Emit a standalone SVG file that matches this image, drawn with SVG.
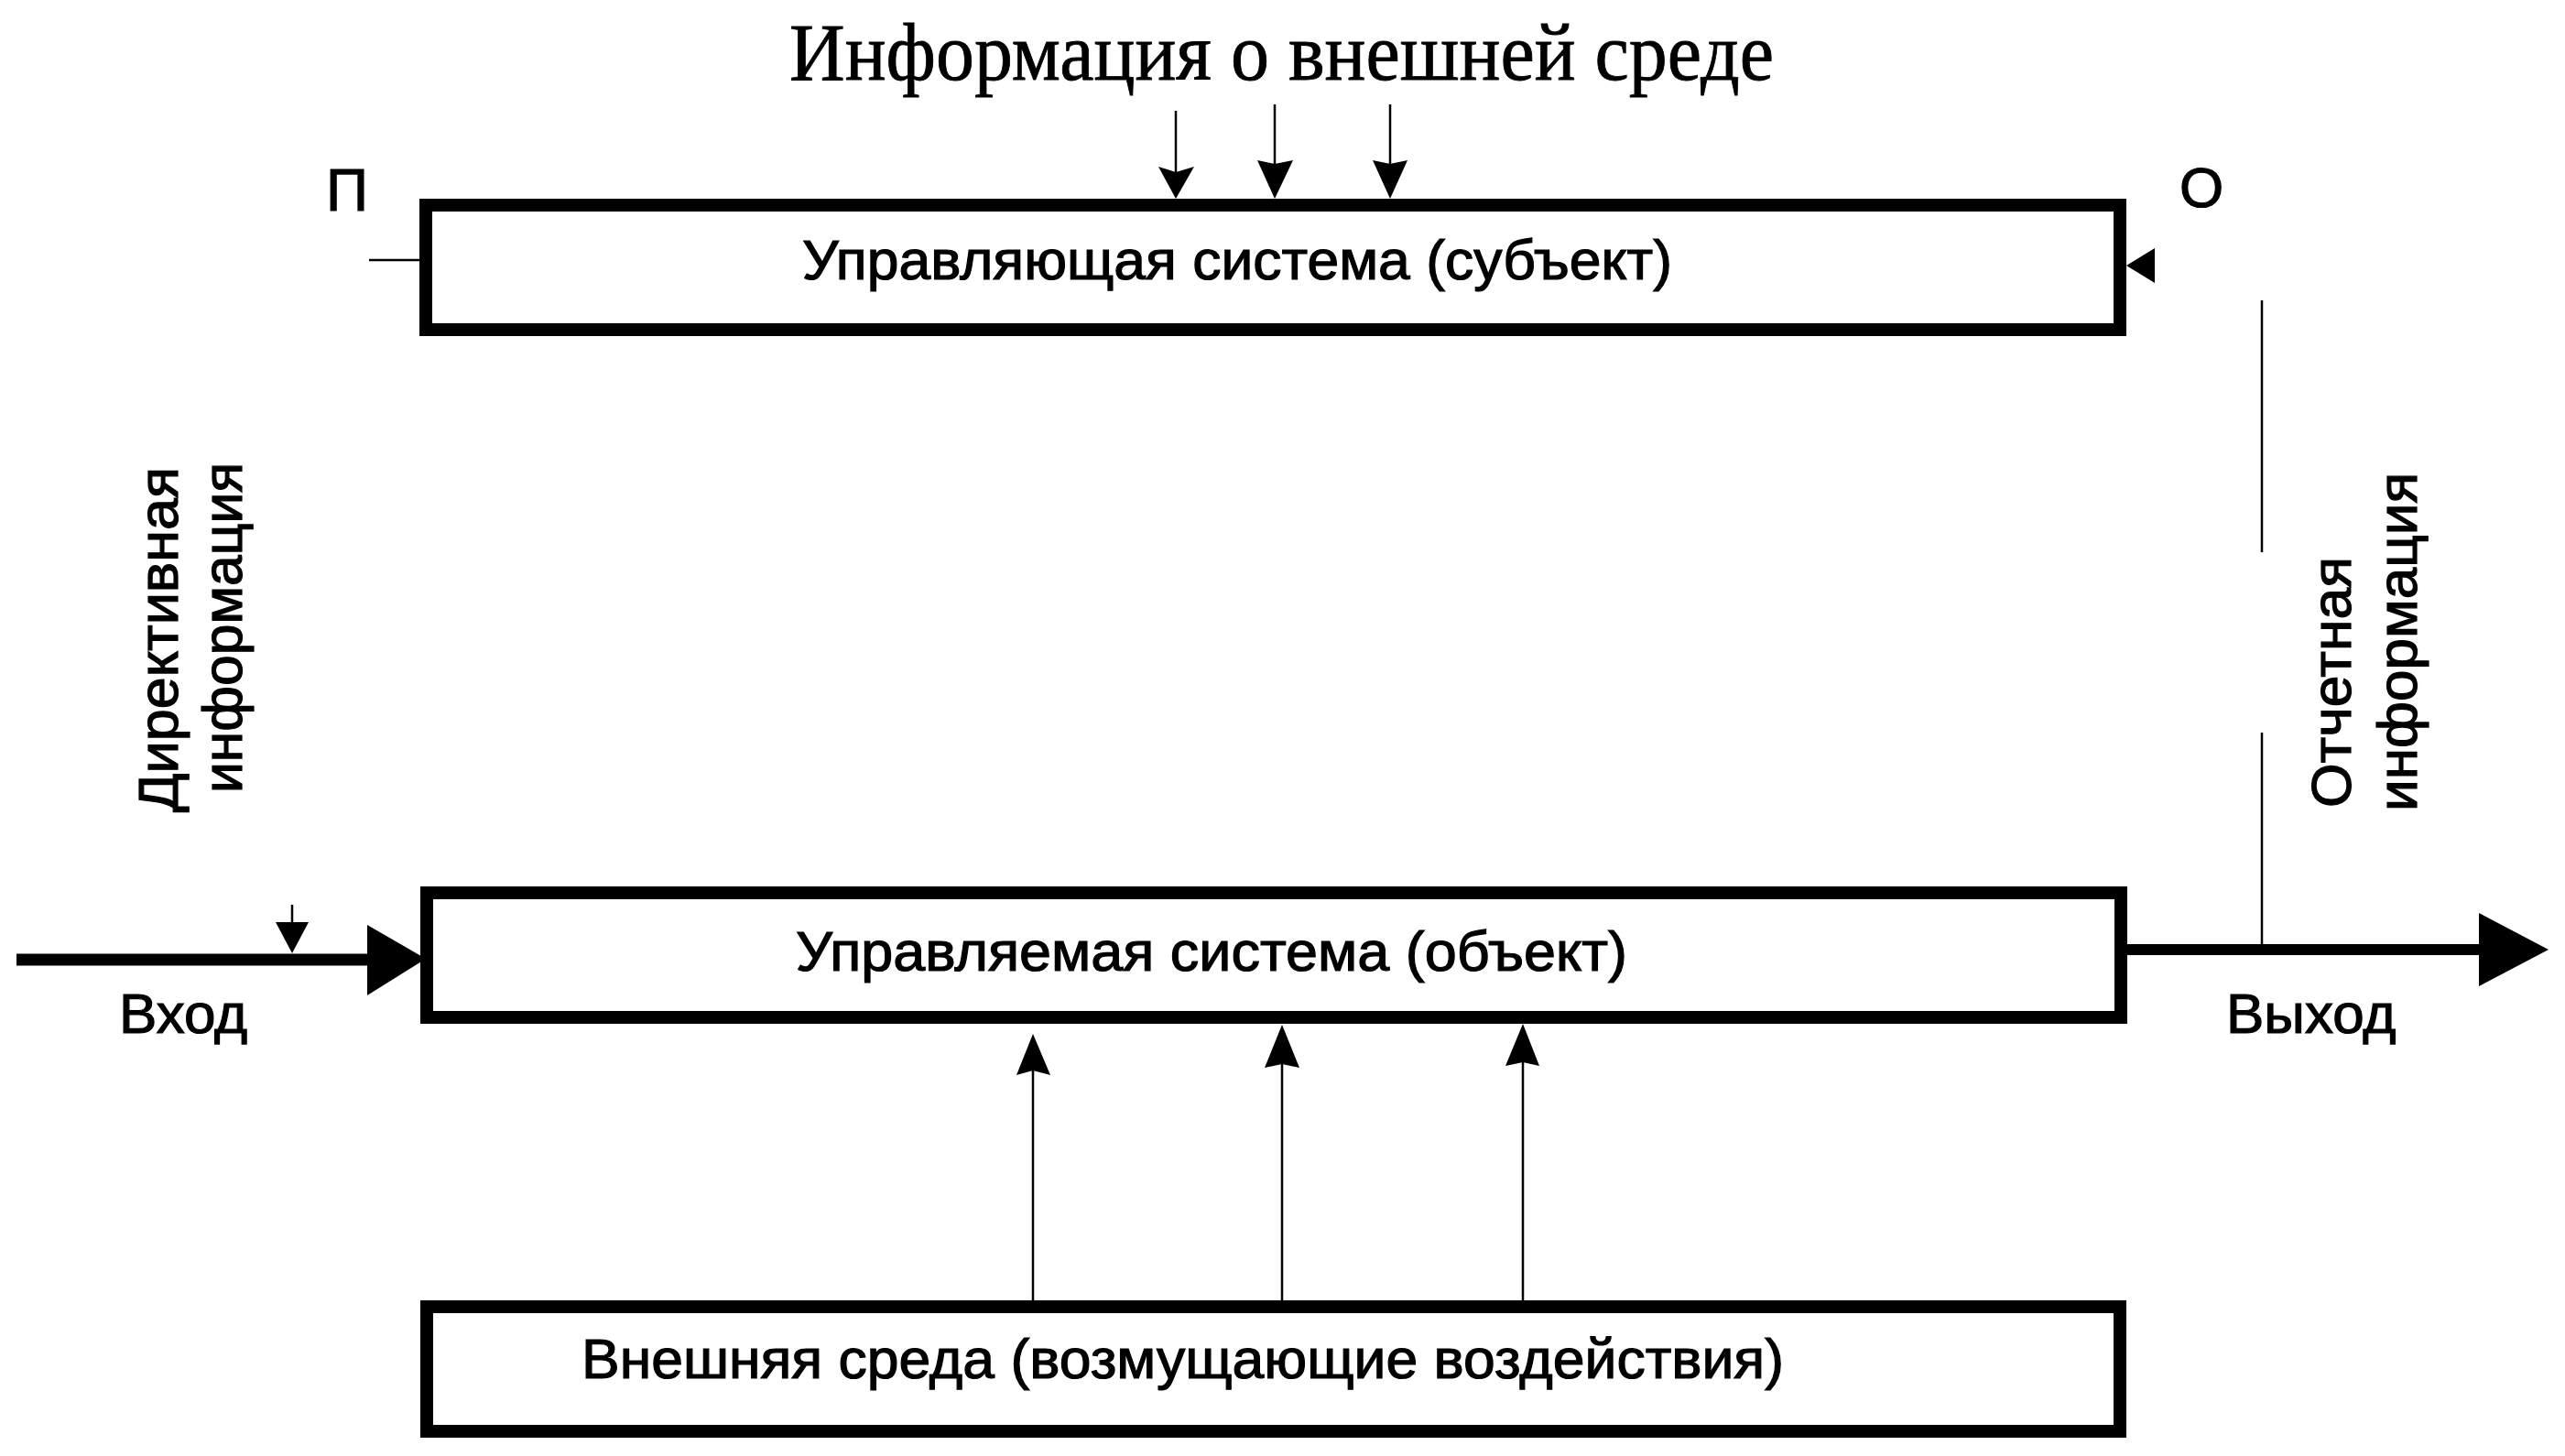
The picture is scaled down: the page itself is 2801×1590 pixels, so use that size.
<svg xmlns="http://www.w3.org/2000/svg" width="2801" height="1590" viewBox="0 0 2801 1590">
<style>
.box{fill:#fff;stroke:#000;stroke-width:14}
.lbl{font-family:"Liberation Sans",Arial,sans-serif;font-size:62px;fill:#000;stroke:#000;stroke-width:1.2}
.ttl{font-family:"Liberation Serif","Times New Roman",serif;font-size:88px;fill:#000;stroke:#000;stroke-width:0.8}
.thin{stroke:#000;stroke-width:2.5;fill:none}
.thick{stroke:#000;stroke-width:13;fill:none}
.head{fill:#000;stroke:none}
</style>
<rect x="0" y="0" width="2801" height="1590" fill="#fff"/>
<text class="ttl" x="862" y="87" textLength="1075" lengthAdjust="spacingAndGlyphs">Информация о внешней среде</text>
<g id="subject">
<rect class="box" x="465" y="224" width="1850" height="136"/>
<text class="lbl" x="876" y="305" textLength="950" lengthAdjust="spacingAndGlyphs">Управляющая система (субъект)</text>
</g>
<g id="object">
<rect class="box" x="466" y="975" width="1850" height="136"/>
<text class="lbl" x="869" y="1060" textLength="908" lengthAdjust="spacingAndGlyphs">Управляемая система (объект)</text>
</g>
<g id="environment">
<rect class="box" x="466" y="1427" width="1849" height="136"/>
<text class="lbl" x="635" y="1505" textLength="1313" lengthAdjust="spacingAndGlyphs">Внешняя среда (возмущающие воздействия)</text>
</g>
<g id="connectors">
<line class="thin" x1="1284" y1="121" x2="1284" y2="190"/>
<polygon class="head" points="1265,182 1284,188 1304,182 1284,217"/>
<line class="thin" x1="1392" y1="114" x2="1392" y2="185"/>
<polygon class="head" points="1373,175 1392,179 1412,175 1392,217"/>
<line class="thin" x1="1518" y1="114" x2="1518" y2="185"/>
<polygon class="head" points="1499,175 1518,179 1537,175 1518,217"/>
<line class="thin" x1="403" y1="284" x2="458" y2="284"/>
<polygon class="head" points="2322,290 2353,271 2353,309"/>
<line class="thin" x1="2470" y1="328" x2="2470" y2="603"/>
<line class="thin" x1="2470" y1="800" x2="2470" y2="1032"/>
<line class="thick" x1="18" y1="1048" x2="410" y2="1048"/>
<polygon class="head" points="401,1010 465,1047 401,1087"/>
<line class="thin" x1="319" y1="988" x2="319" y2="1010"/>
<polygon class="head" points="301,1007 337,1007 319,1041"/>
<line class="thin" x1="2322" y1="1037" x2="2712" y2="1037" style="stroke-width:12"/>
<polygon class="head" points="2707,997 2783,1037 2707,1077"/>
<line class="thin" x1="1128" y1="1420" x2="1128" y2="1165"/>
<polygon class="head" points="1110,1174 1128,1169 1147,1174 1128,1129"/>
<line class="thin" x1="1400" y1="1420" x2="1400" y2="1160"/>
<polygon class="head" points="1381,1166 1400,1162 1419,1166 1400,1119"/>
<line class="thin" x1="1663" y1="1420" x2="1663" y2="1160"/>
<polygon class="head" points="1644,1164 1663,1160 1681,1164 1663,1118"/>
</g>
<g id="labels">
<text class="lbl" x="356" y="230" style="font-size:64px">П</text>
<text class="lbl" x="2380" y="226">О</text>
<text class="lbl" x="130" y="1128">Вход</text>
<text class="lbl" x="2431" y="1128">Выход</text>
<text class="lbl" transform="translate(194,887) rotate(-90)" textLength="377" lengthAdjust="spacingAndGlyphs">Директивная</text>
<text class="lbl" transform="translate(264,866) rotate(-90)" textLength="361" lengthAdjust="spacingAndGlyphs">информация</text>
<text class="lbl" transform="translate(2567,882) rotate(-90)" textLength="274" lengthAdjust="spacingAndGlyphs">Отчетная</text>
<text class="lbl" transform="translate(2639,886) rotate(-90)" textLength="370" lengthAdjust="spacingAndGlyphs">информация</text>
</g>
</svg>
